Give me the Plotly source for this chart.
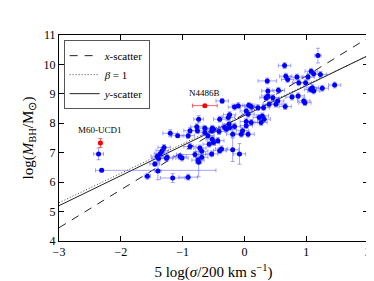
import plotly.graph_objects as go
import numpy as np

# Blue sample: x = 5 log(sigma/200), y = log(M_BH), asymmetric x errors, y errors
x_sigma = [-2.36, -2.31, -1.57, -1.45, -1.40, -1.39, -1.41, -1.36, -1.33, -1.30,
           -1.26, -1.16, -0.91, -0.74, -1.04, -1.01, -0.80, -0.75, -0.88, -0.72,
           -0.69, -1.20, -1.08, -0.57, -0.52, -0.74, -0.77, -0.76, -0.64, -0.52,
           -0.91, -0.88, -0.59, -0.64, -0.53, -0.41, -0.29, -0.25, -0.16, -0.40,
           -0.24, -0.26, -0.36, -0.16, -0.10, 0.07, 0.11, 0.03, 0.06, 0.03,
           0.03, -0.03, 0.06, -0.19, 0.22, 0.29, 0.24, 0.32, 0.11, 0.31,
           0.40, 0.35, 0.38, 0.37, 0.38, 0.51, 0.54, 0.55, 0.66, 0.65,
           0.67, 0.70, 0.85, 0.88, 0.99, 1.03, 1.08, 1.12, 1.23, 1.19,
           1.07, 1.12, 1.10, 0.96, 0.87, 0.77, 0.98, 1.26, 1.46, 0.46,
           -0.50, -0.43, -0.50, -0.37, -0.40, -0.53, -0.19, -0.08, -0.05, -0.32,
           -0.24, 0.27, -1.25, -0.69]
y_mbh = [6.96, 6.40, 6.20, 6.62, 6.38, 6.80, 6.88, 6.97, 7.07, 7.18,
         6.81, 6.14, 6.17, 6.68, 6.87, 6.82, 6.94, 6.75, 7.21, 7.16,
         7.05, 7.66, 7.58, 7.29, 7.46, 8.14, 7.88, 7.75, 7.83, 7.83,
         7.58, 7.75, 7.58, 7.69, 7.75, 7.72, 7.80, 7.97, 7.89, 8.14,
         8.29, 8.20, 8.76, 8.55, 8.60, 8.61, 8.57, 8.42, 8.31, 8.06,
         7.92, 7.75, 7.63, 7.63, 8.53, 8.25, 8.20, 8.14, 8.03, 8.53,
         8.65, 8.87, 8.93, 9.44, 9.10, 8.65, 8.76, 9.12, 8.57, 9.96,
         9.60, 9.49, 9.57, 9.38, 9.38, 9.57, 9.77, 9.68, 9.66, 10.30,
         9.15, 9.10, 9.21, 8.76, 8.93, 8.89, 8.70, 9.19, 9.30, 8.87,
         7.80, 7.41, 7.35, 7.13, 7.07, 6.96, 7.10, 6.96, 7.63, 7.86,
         7.86, 8.03, 6.85, 6.85]
x_err_minus = [0.08, 0.10, 0.05, 0.08, 0.05, 0.10, 0.10, 0.10, 0.10, 0.10,
               0.10, 0.20, 0.15, 0.05, 0.10, 0.10, 0.30, 0.10, 0.10, 0.10,
               0.10, 0.12, 0.10, 0.10, 0.10, 0.08, 0.10, 0.10, 0.10, 0.10,
               0.10, 0.10, 0.10, 0.10, 0.10, 0.10, 0.10, 0.10, 0.10, 0.10,
               0.10, 0.10, 0.10, 0.10, 0.10, 0.10, 0.10, 0.10, 0.10, 0.10,
               0.10, 0.10, 0.10, 0.10, 0.10, 0.10, 0.10, 0.10, 0.10, 0.10,
               0.10, 0.10, 0.10, 0.15, 0.10, 0.10, 0.10, 0.10, 0.10, 0.10,
               0.10, 0.10, 0.10, 0.10, 0.10, 0.10, 0.10, 0.10, 0.10, 0.05,
               0.10, 0.10, 0.10, 0.10, 0.10, 0.10, 0.10, 0.10, 0.10, 0.10,
               0.10, 0.10, 0.10, 0.10, 0.10, 0.10, 0.10, 0.10, 0.10, 0.10,
               0.10, 0.10, 0.10, 0.10]
x_err_plus = [0.08, 1.85, 0.05, 0.08, 0.05, 0.10, 0.10, 0.10, 0.10, 0.10,
              0.10, 0.20, 0.15, 0.05, 0.10, 0.10, 0.30, 0.10, 0.10, 0.10,
              0.10, 0.12, 0.10, 0.10, 0.10, 0.08, 0.10, 0.10, 0.10, 0.10,
              0.10, 0.10, 0.10, 0.10, 0.10, 0.10, 0.10, 0.10, 0.10, 0.10,
              0.10, 0.10, 0.10, 0.10, 0.10, 0.10, 0.10, 0.10, 0.10, 0.10,
              0.10, 0.10, 0.10, 0.10, 0.10, 0.10, 0.10, 0.10, 0.10, 0.10,
              0.10, 0.10, 0.10, 0.15, 0.10, 0.10, 0.10, 0.10, 0.10, 0.10,
              0.10, 0.10, 0.10, 0.10, 0.10, 0.10, 0.10, 0.10, 0.10, 0.05,
              0.10, 0.10, 0.10, 0.10, 0.10, 0.10, 0.10, 0.10, 0.10, 0.10,
              0.10, 0.10, 0.10, 0.10, 0.10, 0.10, 0.10, 0.10, 0.10, 0.10,
              0.10, 0.10, 0.10, 0.10]
y_err = [0.20, 0.05, 0.10, 0.08, 0.30, 0.10, 0.10, 0.10, 0.10, 0.10,
         0.10, 0.15, 0.10, 0.50, 0.10, 0.10, 0.10, 0.10, 0.10, 0.10,
         0.10, 0.12, 0.05, 0.10, 0.10, 0.12, 0.10, 0.10, 0.10, 0.10,
         0.10, 0.10, 0.10, 0.10, 0.10, 0.10, 0.10, 0.10, 0.10, 0.10,
         0.10, 0.10, 0.08, 0.10, 0.10, 0.10, 0.10, 0.10, 0.10, 0.10,
         0.10, 0.10, 0.10, 0.10, 0.10, 0.10, 0.10, 0.10, 0.10, 0.10,
         0.10, 0.10, 0.10, 0.10, 0.10, 0.10, 0.10, 0.10, 0.10, 0.10,
         0.10, 0.10, 0.10, 0.10, 0.10, 0.10, 0.10, 0.10, 0.10, 0.25,
         0.10, 0.10, 0.10, 0.10, 0.10, 0.10, 0.10, 0.10, 0.10, 0.10,
         0.10, 0.10, 0.10, 0.10, 0.10, 0.10, 0.40, 0.35, 0.10, 0.10,
         0.10, 0.10, 0.10, 0.10]

# Highlighted objects
special_names = ["M60-UCD1", "N4486B"]
special_x = [-2.33, -0.64]
special_y = [7.33, 8.60]
special_xerr = [0.02, 0.20]
special_yerr = [0.15, 0.02]

# Fit relations: y = a + b * x
fit_names = ["<i>x</i>-scatter", "<i>β</i> = 1", "<i>y</i>-scatter"]
fit_a = [8.32, 8.30, 8.26]
fit_b = [1.29, 1.00, 1.02]
fit_dash = ["8px,7px", "1px,2px", "solid"]
fit_color = ["#222", "#444", "#222"]

x_ticks = [-3, -2, -1, 0, 1, 2]
y_ticks = [4, 5, 6, 7, 8, 9, 10, 11]

fig = go.Figure()

xl = np.linspace(-3, 2, 50)
for name, a, b, d, c in zip(fit_names, fit_a, fit_b, fit_dash, fit_color):
    fig.add_trace(go.Scatter(x=xl, y=a + b * xl, mode="lines", name=name,
                             line=dict(color=c, width=1, dash=d)))

fig.add_trace(go.Scatter(
    x=x_sigma, y=y_mbh, mode="markers", showlegend=False,
    marker=dict(color="#0000ff", size=5),
    error_x=dict(type="data", symmetric=False, array=x_err_plus, arrayminus=x_err_minus,
                 color="rgba(90,90,255,0.55)", thickness=1, width=2),
    error_y=dict(type="data", array=y_err, color="rgba(90,90,255,0.55)", thickness=1, width=2),
))

fig.add_trace(go.Scatter(
    x=special_x, y=special_y, mode="markers", showlegend=False,
    marker=dict(color="#ff0000", size=5),
    error_x=dict(type="data", array=special_xerr, color="rgba(255,60,60,0.8)", thickness=1, width=2),
    error_y=dict(type="data", array=special_yerr, color="rgba(255,60,60,0.8)", thickness=1, width=2),
))

for n, xx, yy in zip(special_names, special_x, special_y):
    fig.add_annotation(x=xx, y=yy, text=n, showarrow=False, yshift=13,
                       font=dict(family="Liberation Serif", size=9, color="black"))

axis_common = dict(showline=True, linecolor="black", linewidth=1, mirror="allticks",
                   ticks="inside", ticklen=5, tickcolor="black", showgrid=False,
                   zeroline=False, tickfont=dict(family="Liberation Serif", size=12, color="black"))

fig.update_xaxes(range=[-3, 2], tickvals=x_ticks, ticktext=["−3", "−2", "−1", "0", "1", "2"],
                 title=dict(text="5 log(<i>σ</i>/200 km s<sup>−1</sup>)",
                            font=dict(family="Liberation Serif", size=15, color="black"), standoff=8),
                 **axis_common)
fig.update_yaxes(range=[4, 11], tickvals=y_ticks,
                 title=dict(text="log(<i>M</i><sub>BH</sub>/M<sub>⊙</sub>)",
                            font=dict(family="Liberation Serif", size=15, color="black"), standoff=6),
                 **axis_common)

fig.update_layout(
    width=374, height=281,
    margin=dict(l=51, r=11, t=27, b=47),
    plot_bgcolor="white", paper_bgcolor="white",
    legend=dict(x=0.015, y=0.975, xanchor="left", yanchor="top",
                bordercolor="#555", borderwidth=1, bgcolor="white",
                font=dict(family="Liberation Serif", size=11, color="black"),
                tracegroupgap=0, itemwidth=30),
)

fig.write_html("out.html")
